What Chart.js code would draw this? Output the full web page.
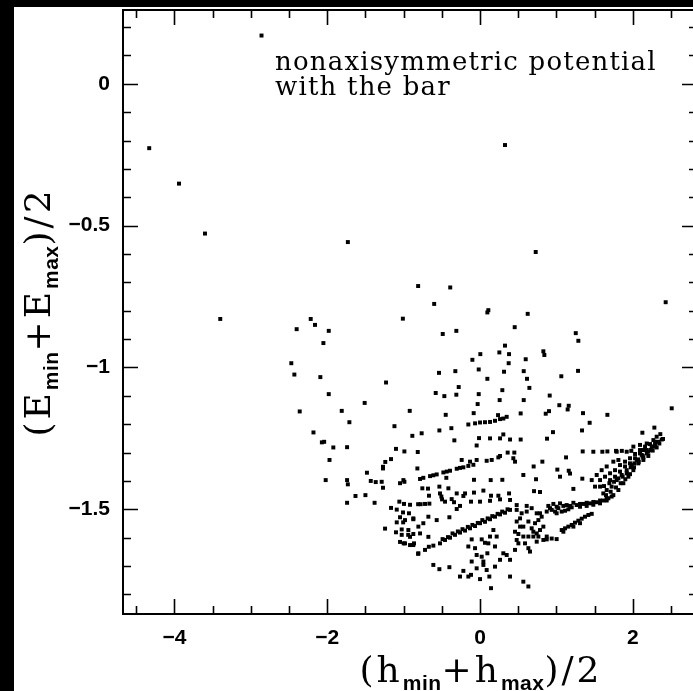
<!DOCTYPE html>
<html>
<head>
<meta charset="utf-8">
<script src="https://cdn.jsdelivr.net/npm/chart.js@4.4.0/dist/chart.umd.min.js"></script>
<style>
  html, body { margin: 0; padding: 0; background: #000; overflow: hidden; }
  #wrap { position: absolute; left: 0; top: 0; width: 700px; height: 691px; }
</style>
</head>
<body>
<div id="wrap"><canvas id="chart" width="700" height="691"></canvas></div>
<script>
// axis ranges and tick labels
const hRange = [-4.673, 2.84];
const eRange = [-1.869, 0.26];
const xMajorTicks = [-4, -2, 0, 2];
const yMajorTicks = [0, -0.5, -1, -1.5];
const xMinorStep = 0.5;
const yMinorStep = 0.1;
const note = ["nonaxisymmetric potential", "with the bar"];

// [ (hmin+hmax)/2 , (Emin+Emax)/2 ]
const haloPoints = [
  [-2.86, 0.17], [-4.33, -0.227], [-3.94, -0.352], [-3.60, -0.528], [-1.73, -0.558],
  [0.327, -0.216], [0.729, -0.593], [-0.81, -0.713], [-0.39, -0.718], [-0.60, -0.776],
  [2.43, -0.770], [-1.01, -0.828], [0.109, -0.798], [0.096, -0.806], [0.624, -0.811],
  [0.454, -0.858], [-0.488, -0.882], [-0.31, -0.871], [1.253, -0.879], [1.287, -0.906],
  [0.327, -0.923], [0.253, -0.947], [0.38, -0.953], [0.004, -0.953], [-0.10, -0.973],
  [0.829, -0.943], [0.842, -0.956], [0.598, -0.971], [0.375, -0.985], [-0.537, -1.019],
  [-0.323, -1.013], [-0.017, -1.007], [0.314, -1.015], [0.572, -1.013], [1.283, -1.012],
  [1.064, -1.031], [0.096, -1.04], [0.615, -1.04], [-3.40, -0.829]
];

const wingPoints = [
  [-2.216, -0.829], [-2.16, -0.850], [-2.40, -0.865], [-1.98, -0.871], [-2.05, -0.914],
  [-2.47, -0.985], [-2.43, -1.025], [-2.09, -1.034], [-1.23, -1.053], [-1.98, -1.094],
  [-1.51, -1.125], [-2.36, -1.155], [-1.81, -1.153], [-0.92, -1.153], [-1.71, -1.193],
  [-1.12, -1.207], [-0.886, -1.241], [-2.18, -1.229], [-2.07, -1.264], [-2.04, -1.262],
  [-1.92, -1.282], [-1.74, -1.281], [-1.10, -1.287], [-0.99, -1.296], [-0.815, -1.298],
  [-1.97, -1.326], [-1.165, -1.323], [-1.24, -1.333], [-1.27, -1.35], [-1.27, -1.356],
  [-0.82, -1.356], [-1.48, -1.371], [-2.02, -1.397], [-1.74, -1.397], [-1.73, -1.412],
  [-1.43, -1.40], [-1.365, -1.404], [-1.287, -1.403], [-1.27, -1.424], [-1.047, -1.408],
  [-0.99, -1.403], [-1.63, -1.453], [-1.50, -1.45], [-1.74, -1.477], [-1.38, -1.477],
  [-1.056, -1.473], [-0.916, -1.484], [-0.81, -1.482], [-1.165, -1.495], [-1.09, -1.501],
  [-1.008, -1.511], [-0.93, -1.514], [-0.873, -1.535], [-1.047, -1.528], [-1.09, -1.546],
  [-1.006, -1.546], [-1.10, -1.581], [-1.025, -1.571], [-0.94, -1.59], [-0.873, -1.587],
  [-1.243, -1.568], [-1.047, -1.615], [-0.999, -1.620], [-0.916, -1.626], [-0.864, -1.620],
  [-0.81, -1.657]
];

const corePoints = [
  [-0.279, -1.069], [0.646, -1.072], [0.292, -1.080], [-0.580, -1.090], [-0.467, -1.101],
  [-0.310, -1.096], [-0.017, -1.094], [0.912, -1.099], [-0.031, -1.129], [0.257, -1.115],
  [0.572, -1.115], [1.038, -1.133], [1.161, -1.135], [1.147, -1.148], [-0.449, -1.167],
  [-0.083, -1.161], [0.236, -1.168], [0.532, -1.162], [0.860, -1.163], [0.903, -1.154],
  [1.348, -1.161], [1.667, -1.167], [2.509, -1.144],
  [-0.153, -1.201], [-0.065, -1.197], [0.0, -1.194], [0.065, -1.193], [0.131, -1.192],
  [0.196, -1.188], [0.262, -1.182], [0.305, -1.180], [0.349, -1.174],
  [-0.375, -1.214], [-0.532, -1.222], [1.335, -1.222], [1.435, -1.195], [0.955, -1.228],
  [-0.764, -1.232], [-0.336, -1.257],
  [-0.013, -1.249], [0.131, -1.250], [0.262, -1.250], [0.305, -1.236], [0.393, -1.254],
  [0.532, -1.254], [0.877, -1.251],
  [2.125, -1.230], [2.282, -1.212], [2.360, -1.235], [2.395, -1.252],
  [-0.044, -1.275], [0.362, -1.300], [0.449, -1.300],
  [1.344, -1.296], [1.483, -1.297], [1.601, -1.297], [1.667, -1.296], [1.780, -1.294],
  [1.856, -1.294], [1.980, -1.294], [2.138, -1.291], [1.126, -1.317],
  [-0.240, -1.326], [-0.131, -1.332], [-0.044, -1.326], [0.087, -1.329], [0.153, -1.326],
  [0.240, -1.317], [0.262, -1.312], [0.436, -1.320], [0.458, -1.332],
  [0.816, -1.332], [0.702, -1.349], [1.012, -1.360], [1.161, -1.364], [1.178, -1.374],
  [-1.003, -1.397], [-0.785, -1.393], [-0.742, -1.389], [-0.654, -1.383], [-0.611, -1.380],
  [-0.567, -1.377], [-0.480, -1.370], [-0.436, -1.367], [-0.393, -1.364], [-0.305, -1.357],
  [-0.262, -1.354], [-0.218, -1.352], [-0.153, -1.347], [-0.087, -1.343],
  [-0.441, -1.389], [-0.079, -1.396], [0.140, -1.397], [0.292, -1.396], [0.567, -1.379],
  [0.733, -1.394], [1.047, -1.385], [1.339, -1.392], [1.222, -1.428],
  [-0.755, -1.426], [-0.681, -1.427], [-0.532, -1.420], [-0.524, -1.444], [-0.506, -1.455],
  [-0.497, -1.465], [-0.414, -1.426], [-0.305, -1.444], [-0.196, -1.444], [-0.218, -1.453],
  [-0.079, -1.441], [0.044, -1.434], [0.144, -1.452], [0.240, -1.452], [0.380, -1.444],
  [0.707, -1.436], [0.785, -1.439], [-0.371, -1.464], [-0.340, -1.475], [-0.668, -1.452],
  [-0.777, -1.482], [-0.720, -1.481], [-0.663, -1.480], [-0.995, -1.481],
  [-0.458, -1.473], [-0.262, -1.488], [-0.118, -1.473], [0.0, -1.473],
  [0.131, -1.470], [0.262, -1.465], [0.393, -1.467], [-0.305, -1.499], [-0.401, -1.528],
  [0.480, -1.485], [0.611, -1.488]
];

const bandPoints = [
  [-0.807, -1.655], [-0.720, -1.643], [-0.611, -1.628], [-0.524, -1.620], [-0.458, -1.608],
  [-0.393, -1.600], [-0.327, -1.590], [-0.262, -1.582], [-0.196, -1.575], [-0.131, -1.567],
  [-0.065, -1.559], [0.0, -1.549], [0.065, -1.544], [0.131, -1.535], [0.196, -1.526],
  [0.262, -1.518], [0.327, -1.512], [0.393, -1.502],
  [-0.67, -1.632], [-0.49, -1.605], [-0.42, -1.598], [-0.36, -1.585], [-0.29, -1.578],
  [-0.23, -1.570], [-0.16, -1.562], [-0.10, -1.555], [-0.03, -1.548], [0.03, -1.538],
  [0.10, -1.532], [0.16, -1.524], [0.23, -1.516], [0.29, -1.508], [0.36, -1.500],
  [-0.873, -1.626], [-0.982, -1.620], [-0.916, -1.597], [-1.025, -1.590], [-0.785, -1.585],
  [-0.676, -1.597], [-0.807, -1.561], [-0.938, -1.573], [-0.742, -1.549], [-0.873, -1.532],
  [-0.676, -1.526], [-0.982, -1.538], [-0.567, -1.538]
];

const basePoints = [
  [-0.532, -1.711], [-0.401, -1.704], [-0.611, -1.696], [-0.218, -1.717], [-0.153, -1.737],
  [-0.118, -1.731], [0.0, -1.746], [0.122, -1.737], [0.144, -1.778], [0.393, -1.737],
  [0.567, -1.755], [0.633, -1.772], [-0.262, -1.737], [-0.109, -1.684], [-0.044, -1.661],
  [0.022, -1.667], [0.044, -1.684], [0.096, -1.655], [0.109, -1.620], [0.196, -1.631],
  [0.218, -1.596], [0.305, -1.655], [0.349, -1.661], [0.393, -1.678], [0.458, -1.643],
  [0.480, -1.608], [0.502, -1.587], [0.567, -1.596], [0.589, -1.620], [0.633, -1.637],
  [0.654, -1.649], [0.698, -1.596], [0.742, -1.585], [0.785, -1.573], [0.829, -1.561],
  [0.873, -1.596], [0.720, -1.549], [0.764, -1.538], [0.676, -1.567], [0.524, -1.561],
  [-0.065, -1.637], [-0.153, -1.631], [-0.109, -1.606], [0.022, -1.606], [0.065, -1.618],
  [0.131, -1.596], [0.175, -1.573], [0.262, -1.678], [0.196, -1.702], [0.087, -1.714],
  [-0.044, -1.708], [0.044, -1.696], [0.873, -1.606], [0.938, -1.603], [1.003, -1.605],
  [0.480, -1.502], [0.545, -1.514], [0.611, -1.508], [0.676, -1.496], [0.742, -1.514],
  [0.807, -1.526], [0.524, -1.532], [0.633, -1.543], [0.480, -1.543], [0.567, -1.561],
  [0.698, -1.579], [0.764, -1.596], [0.633, -1.596], [0.502, -1.620], [0.458, -1.579],
  [0.742, -1.614], [0.829, -1.608], [0.785, -1.514]
];

const clumpPoints = [
  [0.916, -1.496], [1.003, -1.491], [1.091, -1.488], [1.178, -1.488], [1.265, -1.485],
  [1.353, -1.481], [1.440, -1.479], [1.527, -1.475], [1.614, -1.469], [1.680, -1.461],
  [1.745, -1.450], [1.811, -1.432], [1.876, -1.408], [1.942, -1.385], [2.007, -1.362],
  [2.072, -1.338], [2.138, -1.317], [2.203, -1.297], [2.269, -1.279], [2.334, -1.262],
  [2.378, -1.254],
  [1.571, -1.397], [1.636, -1.385], [1.702, -1.373], [1.767, -1.362], [1.832, -1.344],
  [1.898, -1.332], [1.963, -1.320], [2.029, -1.305], [2.094, -1.291], [2.160, -1.279],
  [2.225, -1.270], [2.291, -1.262],
  [1.658, -1.432], [1.723, -1.420], [1.789, -1.397], [1.854, -1.379], [1.920, -1.362],
  [1.985, -1.344], [2.051, -1.326], [2.116, -1.308], [2.182, -1.291], [2.247, -1.279],
  [1.702, -1.397], [1.767, -1.385], [1.832, -1.367], [1.898, -1.349], [1.963, -1.338],
  [2.029, -1.320], [2.094, -1.303], [1.571, -1.420], [1.614, -1.444], [1.505, -1.420],
  [1.462, -1.397], [1.527, -1.379], [1.592, -1.362], [1.658, -1.349], [1.745, -1.332],
  [1.811, -1.326], [1.789, -1.297], [1.920, -1.297], [2.007, -1.279], [2.094, -1.273],
  [2.182, -1.268], [2.269, -1.256], [2.312, -1.244],
  [1.623, -1.418], [1.693, -1.408], [1.754, -1.403], [1.811, -1.391], [1.867, -1.385],
  [1.920, -1.373], [1.972, -1.352], [2.020, -1.338], [2.072, -1.324], [2.129, -1.312],
  [2.182, -1.303], [2.234, -1.291], [2.291, -1.273], [2.347, -1.268], [1.649, -1.450],
  [1.710, -1.438], [1.780, -1.423], [1.841, -1.408], [1.902, -1.394], [1.963, -1.376],
  [2.016, -1.352], [2.077, -1.333], [2.138, -1.326], [2.203, -1.312], [2.260, -1.293],
  [2.312, -1.282],
  [0.894, -1.488], [0.938, -1.502], [0.982, -1.508], [1.025, -1.496], [1.069, -1.508],
  [1.113, -1.505], [1.156, -1.500], [1.200, -1.493], [0.960, -1.481], [1.047, -1.479],
  [1.134, -1.485], [1.222, -1.477], [0.873, -1.508], [1.003, -1.514],
  [1.309, -1.481], [1.396, -1.477], [1.483, -1.474], [1.571, -1.469], [1.658, -1.462],
  [1.309, -1.491], [1.396, -1.488], [1.483, -1.484], [1.571, -1.479], [1.658, -1.469],
  [1.723, -1.455],
  [1.069, -1.573], [1.113, -1.567], [1.156, -1.561], [1.200, -1.555], [1.243, -1.547],
  [1.287, -1.540], [1.331, -1.533], [1.374, -1.526], [1.418, -1.520], [1.462, -1.516],
  [1.091, -1.579], [1.222, -1.561], [1.309, -1.549]
];

const allPoints = [].concat(haloPoints, wingPoints, corePoints, bandPoints, basePoints, clumpPoints)
  .map(([h, e]) => ({ x: h, y: e }));

function stepValues(range, step) {
  const out = [];
  for (let k = Math.ceil(range[0] / step - 1e-9); k * step <= range[1] + 1e-9; k++) {
    out.push(Math.round(k * step * 1000) / 1000);
  }
  return out;
}
const xTickValues = stepValues(hRange, xMinorStep);
const yTickValues = stepValues(eRange, yMinorStep);

const isMajor = (v, list) => list.some((m) => Math.abs(m - v) < 1e-6);
const fmt = (v) => (v < 0 ? "\u2212" + Math.abs(v) : String(v));

// draws text with subscripts, centred on (0,0) of the current transform
function drawSubbed(ctx, parts) {
  const main = "36px 'DejaVu Serif'";
  const sub = "bold 21px 'Liberation Sans'";
  const spacing = (p) => (p.sub ? "0.5px" : "3px");
  let total = 0;
  parts.forEach((p) => {
    ctx.font = p.sub ? sub : main;
    ctx.letterSpacing = spacing(p);
    total += ctx.measureText(p.t).width;
  });
  let cx = -total / 2;
  parts.forEach((p) => {
    ctx.font = p.sub ? sub : main;
    ctx.letterSpacing = spacing(p);
    ctx.fillText(p.t, cx, p.sub ? 8 : 0);
    cx += ctx.measureText(p.t).width;
  });
  ctx.letterSpacing = "0px";
}

const framePlugin = {
  id: "frame",
  beforeDraw(chart) {
    const ctx = chart.ctx;
    ctx.save();
    ctx.fillStyle = "#000";
    ctx.fillRect(0, 0, chart.width, chart.height);
    ctx.fillStyle = "#fff";
    ctx.fillRect(14, 7, chart.width - 14, chart.height - 7);
    ctx.restore();
  },
  afterDraw(chart) {
    const { ctx, chartArea: a, scales } = chart;
    const x = scales.x, y = scales.y;
    ctx.save();
    ctx.strokeStyle = "#000";
    ctx.lineWidth = 2;
    ctx.strokeRect(a.left, a.top, a.right - a.left, a.bottom - a.top);
    ctx.lineWidth = 1.6;
    ctx.beginPath();
    xTickValues.forEach((v) => {
      const px = Math.round(x.getPixelForValue(v)) + 0.5;
      const len = isMajor(v, xMajorTicks) ? 15 : 8;
      ctx.moveTo(px, a.bottom); ctx.lineTo(px, a.bottom - len);
      ctx.moveTo(px, a.top); ctx.lineTo(px, a.top + len);
    });
    yTickValues.forEach((v) => {
      const py = Math.round(y.getPixelForValue(v)) + 0.5;
      const len = isMajor(v, yMajorTicks) ? 15 : 8;
      ctx.moveTo(a.left, py); ctx.lineTo(a.left + len, py);
      ctx.moveTo(a.right, py); ctx.lineTo(a.right - len, py);
    });
    ctx.stroke();

    // annotation
    ctx.fillStyle = "#000";
    ctx.font = "26px 'DejaVu Serif'";
    ctx.letterSpacing = "1.2px";
    ctx.textAlign = "left";
    ctx.textBaseline = "alphabetic";
    ctx.fillText(note[0], 275, 70);
    ctx.fillText(note[1], 275, 95);
    ctx.letterSpacing = "0px";

    // axis titles
    ctx.save();
    ctx.translate(481, 682);
    drawSubbed(ctx, [
      { t: "(h" }, { t: "min", sub: true }, { t: "+h" }, { t: "max", sub: true }, { t: ")/2" }
    ]);
    ctx.restore();
    ctx.save();
    ctx.translate(50, 312);
    ctx.rotate(-Math.PI / 2);
    drawSubbed(ctx, [
      { t: "(E" }, { t: "min", sub: true }, { t: "+E" }, { t: "max", sub: true }, { t: ")/2" }
    ]);
    ctx.restore();
    ctx.restore();
  }
};

const tickFont = { family: "'Liberation Sans'", size: 21, weight: "bold" };

new Chart(document.getElementById("chart"), {
  type: "scatter",
  data: {
    datasets: [
      {
        data: allPoints,
        pointStyle: "rect",
        pointRadius: 2.8,
        pointHoverRadius: 2.8,
        backgroundColor: "#000",
        borderWidth: 0,
      },
    ],
  },
  options: {
    responsive: false,
    animation: false,
    events: [],
    layout: { padding: { top: 10, right: 3, left: 0, bottom: 0 } },
    plugins: {
      legend: { display: false },
      tooltip: { enabled: false },
    },
    scales: {
      x: {
        type: "linear",
        min: hRange[0],
        max: hRange[1],
        afterBuildTicks: (s) => { s.ticks = xTickValues.map((v) => ({ value: v })); },
        afterFit: (s) => { s.height = 77; s.paddingLeft = 0; s.paddingRight = 0; },
        grid: { display: false, drawTicks: false },
        border: { display: false },
        ticks: {
          autoSkip: false,
          maxRotation: 0,
          padding: 12,
          color: "#000",
          font: tickFont,
          callback: (v) => (isMajor(v, xMajorTicks) ? fmt(v) : ""),
        },
      },
      y: {
        type: "linear",
        min: eRange[0],
        max: eRange[1],
        afterBuildTicks: (s) => { s.ticks = yTickValues.map((v) => ({ value: v })); },
        afterFit: (s) => { s.width = 123; s.paddingTop = 0; s.paddingBottom = 0; },
        grid: { display: false, drawTicks: false },
        border: { display: false },
        ticks: {
          autoSkip: false,
          padding: 13,
          color: "#000",
          font: tickFont,
          callback: (v) => (isMajor(v, yMajorTicks) ? fmt(v) : ""),
        },
      },
    },
  },
  plugins: [framePlugin],
});
</script>
</body>
</html>
